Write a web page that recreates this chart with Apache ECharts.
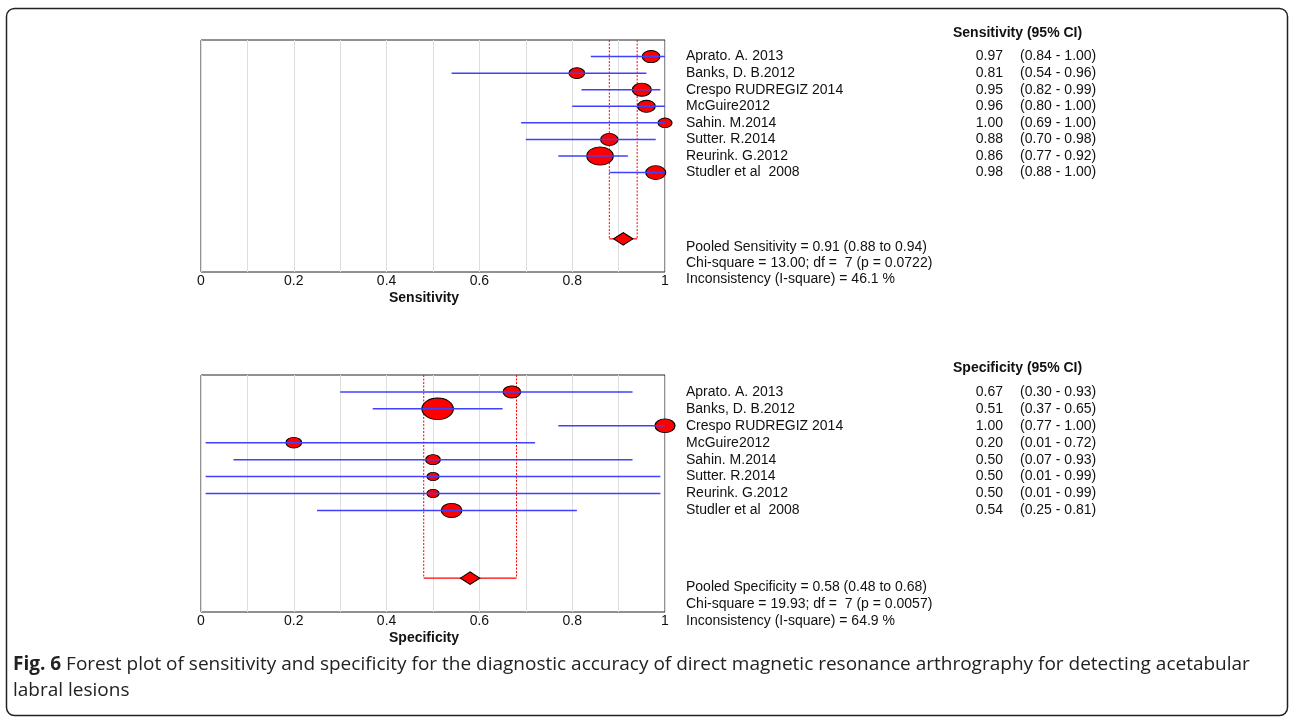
<!DOCTYPE html>
<html><head><meta charset="utf-8">
<script src="https://cdn.jsdelivr.net/npm/echarts@6/dist/echarts.min.js"></script>
<style>html,body{margin:0;padding:0;background:#fff}#c{width:1290px;height:717px}</style>
</head><body><div id="c"></div>
<script>
// ---------- data ----------
const studies = ['Aprato. A. 2013', 'Banks, D. B.2012', 'Crespo RUDREGIZ 2014', 'McGuire2012', 'Sahin. M.2014', 'Sutter. R.2014', 'Reurink. G.2012', 'Studler et al  2008'];
const sensEst  = [0.97, 0.81, 0.95, 0.96, 1.00, 0.88, 0.86, 0.98];
const sensLow  = [0.84, 0.54, 0.82, 0.80, 0.69, 0.70, 0.77, 0.88];
const sensHigh = [1.00, 0.96, 0.99, 1.00, 1.00, 0.98, 0.92, 1.00];
const sensWeight = [0.88, 0.78, 0.95, 0.88, 0.70, 0.87, 1.32, 1.00];
const specEst  = [0.67, 0.51, 1.00, 0.20, 0.50, 0.50, 0.50, 0.54];
const specLow  = [0.30, 0.37, 0.77, 0.01, 0.07, 0.01, 0.01, 0.25];
const specHigh = [0.93, 0.65, 1.00, 0.72, 0.93, 0.99, 0.99, 0.81];
const specWeight = [0.88, 1.57, 1.00, 0.78, 0.73, 0.60, 0.60, 1.03];
const sensPooled = [0.91, 0.88, 0.94];
const specPooled = [0.58, 0.48, 0.68];
const sensStats = ['Pooled Sensitivity = 0.91 (0.88 to 0.94)', 'Chi-square = 13.00; df =  7 (p = 0.0722)', 'Inconsistency (I-square) = 46.1 %'];
const specStats = ['Pooled Specificity = 0.58 (0.48 to 0.68)', 'Chi-square = 19.93; df =  7 (p = 0.0057)', 'Inconsistency (I-square) = 64.9 %'];
const xTickLabels = ['0', '0.2', '0.4', '0.6', '0.8', '1'];
const caption = 'Forest plot of sensitivity and specificity for the diagnostic accuracy of direct magnetic resonance arthrography for detecting acetabular\nlabral lesions';
const pooledRow = 12;

// ---------- styles ----------
const FONT = '"Liberation Sans", Arial, Helvetica, sans-serif';
const TXT = '#111';
const BASE_W = 20, ASPECT = 1.45;
const ELLIPSE = 'path://M0,50C0,22.4 22.4,0 50,0C77.6,0 100,22.4 100,50C100,77.6 77.6,100 50,100C22.4,100 0,77.6 0,50Z';

const chart = echarts.init(document.getElementById('c'), null, {renderer: 'canvas'});

const grids = [
  {left: 201, top: 40, width: 464, height: 232, show: true, borderColor: '#222', borderWidth: 1, backgroundColor: 'transparent'},
  {left: 201, top: 375, width: 464, height: 237, show: true, borderColor: '#222', borderWidth: 1, backgroundColor: 'transparent'}
];

function xAxisFor(gi, name) {
  return {
    gridIndex: gi, type: 'value', min: 0, max: 1, interval: 0.1,
    axisLine: {show: false}, axisTick: {show: false},
    splitLine: {show: true, lineStyle: {color: '#dedede', width: 1}},
    axisLabel: {
      margin: 2, fontSize: 14, color: TXT, fontFamily: FONT, showMaxLabel: true, showMinLabel: true,
      formatter: v => { const k = Math.round(v * 10); return k % 2 === 0 ? xTickLabels[k / 2] : ''; }
    },
    name: name, nameLocation: 'middle', nameGap: 19,
    nameTextStyle: {fontSize: 14, fontWeight: 'bold', color: TXT, fontFamily: FONT, padding: [0, 18, 0, 0]}
  };
}

function yBase(gi) {
  return {gridIndex: gi, type: 'value', min: 0, max: 14, interval: 1, inverse: true,
    axisLine: {show: false}, axisTick: {show: false}, splitLine: {show: false}};
}
function yAxesFor(gi, est, lo, hi) {
  const rowOK = v => v >= 1 && v <= studies.length;
  return [
    Object.assign(yBase(gi), {position: 'left', axisLabel: {show: false}}),
    Object.assign(yBase(gi), {position: 'right', axisLabel: {margin: 21, fontSize: 14, color: TXT, fontFamily: FONT,
      formatter: v => rowOK(v) ? studies[v - 1] : ''}}),
    Object.assign(yBase(gi), {position: 'right', axisLabel: {margin: 338, align: 'right', fontSize: 14, color: TXT, fontFamily: FONT,
      formatter: v => rowOK(v) ? est[v - 1].toFixed(2) : ''}}),
    Object.assign(yBase(gi), {position: 'right', axisLabel: {margin: 355, align: 'left', fontSize: 14, color: TXT, fontFamily: FONT,
      formatter: v => rowOK(v) ? '(' + lo[v - 1].toFixed(2) + ' - ' + hi[v - 1].toFixed(2) + ')' : ''}})
  ];
}

function seriesFor(gi, est, lo, hi, weight, pooled) {
  const yi = gi * 4;
  return [
    {
      type: 'scatter', xAxisIndex: gi, yAxisIndex: yi, z: 2, clip: false, silent: true,
      symbol: ELLIPSE,
      symbolSize: v => [v[2] * BASE_W, v[2] * BASE_W / ASPECT],
      itemStyle: {color: '#ff0000', borderColor: '#000', borderWidth: 1, opacity: 1},
      data: est.map((e, i) => [e, i + 1, weight[i]])
    },
    {
      type: 'custom', xAxisIndex: gi, yAxisIndex: yi, z: 3, silent: true,
      encode: {x: [0, 1], y: 2},
      renderItem: (params, api) => {
        const a = api.coord([api.value(0), api.value(2)]);
        const b = api.coord([api.value(1), api.value(2)]);
        return {type: 'line', shape: {x1: a[0], y1: a[1], x2: b[0], y2: b[1]},
          style: {stroke: '#4040ff', lineWidth: 1.5}};
      },
      data: lo.map((l, i) => [l, hi[i], i + 1])
    },
    {
      type: 'custom', xAxisIndex: gi, yAxisIndex: yi, z: 2, silent: true,
      encode: {x: [0, 1], y: 2},
      renderItem: (params, api) => {
        const l = api.value(0), h = api.value(1), r = api.value(2);
        const lt = api.coord([l, 0]), lb = api.coord([l, r]);
        const ht = api.coord([h, 0]), hb = api.coord([h, r]);
        const dash = {stroke: '#ff0000', lineWidth: 1, lineDash: [2, 1.5]};
        return {type: 'group', children: [
          {type: 'line', shape: {x1: lt[0], y1: lt[1], x2: lb[0], y2: lb[1]}, style: dash},
          {type: 'line', shape: {x1: ht[0], y1: ht[1], x2: hb[0], y2: hb[1]}, style: dash},
          {type: 'line', shape: {x1: lb[0], y1: lb[1], x2: hb[0], y2: hb[1]}, style: {stroke: '#ff0000', lineWidth: 1.2}}
        ]};
      },
      data: [[pooled[1], pooled[2], pooledRow]]
    },
    {
      type: 'scatter', xAxisIndex: gi, yAxisIndex: yi, z: 4, clip: false, silent: true,
      symbol: 'diamond', symbolSize: [19.5, 12.5],
      itemStyle: {color: '#ff0000', borderColor: '#000', borderWidth: 1, opacity: 1},
      data: [[pooled[0], pooledRow]]
    }
  ];
}

function statText(lines, top) {
  return lines.map((t, i) => ({type: 'text', left: 686, top: top[i] - 8,
    style: {text: t, font: '14px ' + FONT, fill: TXT}}));
}

const CAP_FONT = '"Open Sans", sans-serif';
const option = {
  backgroundColor: '#fff',
  animation: false,
  grid: grids,
  xAxis: [xAxisFor(0, 'Sensitivity'), xAxisFor(1, 'Specificity')],
  yAxis: yAxesFor(0, sensEst, sensLow, sensHigh).concat(yAxesFor(1, specEst, specLow, specHigh)),
  series: seriesFor(0, sensEst, sensLow, sensHigh, sensWeight, sensPooled)
    .concat(seriesFor(1, specEst, specLow, specHigh, specWeight, specPooled)),
  graphic: [
    {type: 'rect', shape: {x: 6.5, y: 8.5, width: 1281, height: 707, r: 8}, style: {fill: 'none', stroke: '#222', lineWidth: 1.5}, z: 100},
    {type: 'text', left: 953, top: 26, style: {text: 'Sensitivity (95% CI)', font: 'bold 14px ' + FONT, fill: TXT}},
    {type: 'text', left: 953, top: 361, style: {text: 'Specificity (95% CI)', font: 'bold 14px ' + FONT, fill: TXT}},
    {type: 'text', left: 13, top: 652, style: {
      text: '{b|Fig. 6} ' + caption,
      font: '19px ' + CAP_FONT, fill: '#222', lineHeight: 26,
      rich: {b: {font: 'bold 19px ' + CAP_FONT, fill: '#222', lineHeight: 26}}
    }}
  ].concat(statText(sensStats, [248.5, 264.5, 280])).concat(statText(specStats, [588, 605, 622]))
};
chart.setOption(option);
</script>
</body></html>
